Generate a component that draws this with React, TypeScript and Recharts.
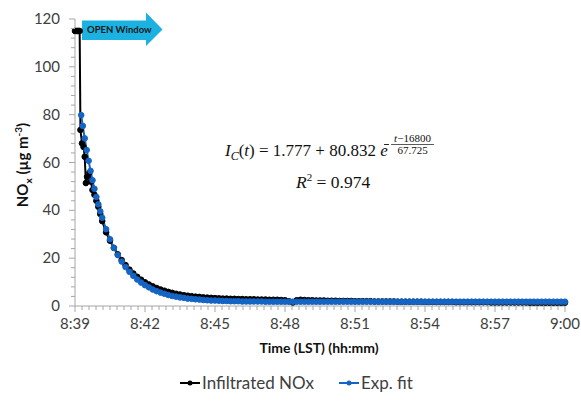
import { LineChart, Line, XAxis, YAxis, Customized } from 'recharts'

// seconds after 8:39
const EARLY_T_MEAS = [0, 3, 6, 9, 12, 14, 18, 22, 25, 28, 31, 37, 41, 45, 50, 55, 60, 65]
const EARLY_MEAS = [115, 115, 115, 115, 115, 73.6, 68, 66.5, 62.4, 51.4, 54, 55.7, 52, 48.5, 46.5, 44, 41.5, 38.5]

const EARLY_T_FIT = [16, 20, 25, 30, 35, 40, 45, 50, 55, 60, 65]
const EARLY_FIT = [79.8, 75.3, 70.1, 65.2, 60.7, 56.5, 52.6, 49.0, 45.6, 42.5, 39.6]

// regular 10 s samples from 70 s to 1260 s
const GRID_START = 70
const GRID_STEP = 10
const MEAS = [
  35.5, 30.8, 27.3, 24.3, 21.6, 19.2, 17.1, 15.2, 13.6, 12.2,
  11.0, 9.9, 9.0, 8.2, 7.5, 6.9, 6.4, 5.9, 5.5, 5.1,
  4.8, 4.5, 4.3, 4.1, 3.9, 3.8, 3.6, 3.5, 3.4, 3.3,
  3.2, 3.1, 3.1, 3.0, 3.0, 2.9, 2.9, 2.8, 2.8, 2.8,
  2.7, 2.7, 2.7, 2.6, 2.6, 2.6, 2.5, 2.4, 2.0, 1.5,
  2.4, 2.6, 2.5, 2.4, 2.4, 2.3, 2.3, 2.3, 2.2, 2.2,
  2.2, 2.1, 2.1, 2.1, 2.1, 2.0, 2.0, 2.0, 2.0, 2.0,
  1.9, 1.9, 1.9, 1.9, 1.9, 1.9, 1.8, 1.8, 1.8, 1.8,
  1.8, 1.8, 1.8, 1.7, 1.7, 1.7, 1.7, 1.7, 1.7, 1.7,
  1.7, 1.6, 1.6, 1.6, 1.6, 1.6, 1.6, 1.6, 1.6, 1.6,
  1.5, 1.5, 1.5, 1.5, 1.5, 1.5, 1.5, 1.5, 1.5, 1.5,
  1.4, 1.4, 1.4, 1.4, 1.4, 1.4, 1.4, 1.4, 1.4, 1.4,
]
const FIT = [
  36.9, 32.1, 27.9, 24.3, 21.3, 18.6, 16.3, 14.3, 12.6, 11.1,
  9.8, 8.7, 7.8, 6.9, 6.2, 5.6, 5.1, 4.6, 4.2, 3.9,
  3.6, 3.4, 3.1, 3.0, 2.8, 2.7, 2.5, 2.4, 2.3, 2.3,
  2.2, 2.1, 2.1, 2.0, 2.0, 2.0, 1.9, 1.9, 1.9, 1.9,
  1.9, 1.9, 1.8, 1.8, 1.8, 1.8, 1.8, 1.8, 1.8, 1.8,
  1.8, 1.8, 1.8, 1.8, 1.8, 1.8, 1.8, 1.8, 1.8, 1.8,
  1.8, 1.8, 1.8, 1.8, 1.8, 1.8, 1.8, 1.8, 1.8, 1.8,
  1.8, 1.8, 1.8, 1.8, 1.8, 1.8, 1.8, 1.8, 1.8, 1.8,
  1.8, 1.8, 1.8, 1.8, 1.8, 1.8, 1.8, 1.8, 1.8, 1.8,
  1.8, 1.8, 1.8, 1.8, 1.8, 1.8, 1.8, 1.8, 1.8, 1.8,
  1.8, 1.8, 1.8, 1.8, 1.8, 1.8, 1.8, 1.8, 1.8, 1.8,
  1.8, 1.8, 1.8, 1.8, 1.8, 1.8, 1.8, 1.8, 1.8, 1.8,
]

const X_TICKS = Array.from({ length: 71 }, (_, i) => i * 18)
const Y_TICKS = Array.from({ length: 31 }, (_, i) => i * 4)

const AXIS = '#a6a6a6'
const TEXT = '#404040'
const BLACK = '#000000'
const BLUE = '#1464c4'
const FONT = 'Lato, "Open Sans", sans-serif'
const SERIF = '"Liberation Serif", "DejaVu Serif", serif'

const measData = [
  ...EARLY_T_MEAS.map((t, i) => ({ t, v: EARLY_MEAS[i] })),
  ...MEAS.map((v, i) => ({ t: GRID_START + i * GRID_STEP, v })),
]
const fitData = [
  ...EARLY_T_FIT.map((t, i) => ({ t, v: EARLY_FIT[i] })),
  ...FIT.map((v, i) => ({ t: GRID_START + i * GRID_STEP, v })),
]

function fmtTime(s: number) {
  const total = 39 + s / 60
  const h = 8 + Math.floor(total / 60)
  const m = Math.round(total % 60)
  return `${h}:${m < 10 ? '0' + m : m}`
}

const XTick = (props: any) => {
  const { x, y, payload } = props
  const major = payload.value % 180 === 0
  return (
    <g>
      <line x1={x} x2={x} y1={y} y2={y + (major ? 6 : 4)} stroke={AXIS} />
      {major && (
        <text x={x} y={y + 23} textAnchor="middle" fontSize={15} fontFamily={FONT} fill={TEXT}>
          {fmtTime(payload.value)}
        </text>
      )}
    </g>
  )
}

const YTick = (props: any) => {
  const { x, y, payload } = props
  const major = payload.value % 20 === 0
  return (
    <g>
      <line x1={x - (major ? 6 : 4)} x2={x} y1={y} y2={y} stroke={AXIS} />
      {major && (
        <text x={x - 15} y={y + 5} textAnchor="end" fontSize={15} fontFamily={FONT} fill={TEXT}>
          {payload.value}
        </text>
      )}
    </g>
  )
}

const Annotations = () => (
  <g>
    {/* open window arrow */}
    <polygon points="82,20.5 146,20.5 146,12.5 162.5,29.5 146,46 146,40 82,40" fill="#1bb1e0" />
    <text x={87} y={33} fontSize={9.5} fontWeight="bold" fontFamily={FONT} fill="#1a1a1a">
      OPEN Window
    </text>

    {/* axis titles */}
    <text transform="translate(27.5,165) rotate(-90)" textAnchor="middle" fontSize={15} fontWeight="bold" fontFamily={FONT} fill="#111">
      NO<tspan dy={4} fontSize={10}>x</tspan>
      <tspan dy={-4}> (µg m</tspan>
      <tspan dy={-6} fontSize={10}>-3</tspan>
      <tspan dy={6}>)</tspan>
    </text>
    <text x={319} y={353} textAnchor="middle" fontSize={14} fontWeight="bold" fontFamily={FONT} fill="#111">
      Time (LST) (hh:mm)
    </text>

    {/* fit equation */}
    <text x={225} y={156} fontSize={17} fontFamily={SERIF} fill="#111">
      <tspan fontStyle="italic">I</tspan>
      <tspan dy={4} fontSize={12} fontStyle="italic">C</tspan>
      <tspan dy={-4}>(</tspan>
      <tspan fontStyle="italic">t</tspan>
      <tspan>) = 1.777 + 80.832 </tspan>
      <tspan fontStyle="italic">e</tspan>
    </text>
    <line x1={384} x2={389} y1={144.5} y2={144.5} stroke="#111" strokeWidth={0.9} />
    <line x1={391} x2={434} y1={144.5} y2={144.5} stroke="#111" strokeWidth={0.7} />
    <text x={412.5} y={141.5} textAnchor="middle" fontSize={11} fontFamily={SERIF} fill="#111">
      <tspan fontStyle="italic">t</tspan>−16800
    </text>
    <text x={412.5} y={154} textAnchor="middle" fontSize={11} fontFamily={SERIF} fill="#111">
      67.725
    </text>
    <text x={296} y={188} fontSize={17.5} fontFamily={SERIF} fill="#111">
      <tspan fontStyle="italic">R</tspan>
      <tspan dy={-7} fontSize={11}>2</tspan>
      <tspan dy={7}> = 0.974</tspan>
    </text>
  </g>
)

const LegendIcon = ({ color }: { color: string }) => (
  <svg width={20} height={10} style={{ marginRight: 2 }}>
    <line x1={0} x2={20} y1={5} y2={5} stroke={color} strokeWidth={2} />
    <circle cx={10} cy={5} r={2.5} fill={color} />
  </svg>
)

export default function App() {
  return (
    <div style={{ position: 'absolute', left: 0, top: 0, width: 581, height: 401, overflow: 'hidden' }}>
      <LineChart width={581} height={401} margin={{ top: 19, right: 16, bottom: 0, left: 0 }}>
        <XAxis
          dataKey="t"
          type="number"
          domain={[0, 1260]}
          ticks={X_TICKS}
          interval={0}
          tickSize={0}
          tickMargin={0}
          tickLine={false}
          height={95}
          axisLine={{ stroke: AXIS }}
          tick={XTick}
        />
        <YAxis
          type="number"
          domain={[0, 120]}
          ticks={Y_TICKS}
          interval={0}
          tickSize={0}
          tickMargin={0}
          tickLine={false}
          width={75}
          axisLine={{ stroke: AXIS }}
          tick={YTick}
        />
        <Line
          data={measData}
          dataKey="v"
          stroke={BLACK}
          strokeWidth={2}
          dot={{ r: 2.8, fill: BLACK, stroke: BLACK, strokeWidth: 1 }}
          isAnimationActive={false}
        />
        <Line
          data={fitData}
          dataKey="v"
          stroke={BLUE}
          strokeWidth={2}
          dot={{ r: 2.8, fill: BLUE, stroke: BLUE, strokeWidth: 1 }}
          isAnimationActive={false}
        />
        <Customized component={Annotations} />
      </LineChart>
      <div
        style={{
          position: 'absolute',
          left: 180,
          top: 372,
          display: 'flex',
          alignItems: 'center',
          fontFamily: FONT,
          fontSize: 17,
          color: TEXT,
          whiteSpace: 'nowrap',
        }}
      >
        <LegendIcon color={BLACK} />
        <span>Infiltrated NOx</span>
        <span style={{ width: 25 }} />
        <LegendIcon color={BLUE} />
        <span>Exp. fit</span>
      </div>
    </div>
  )
}
